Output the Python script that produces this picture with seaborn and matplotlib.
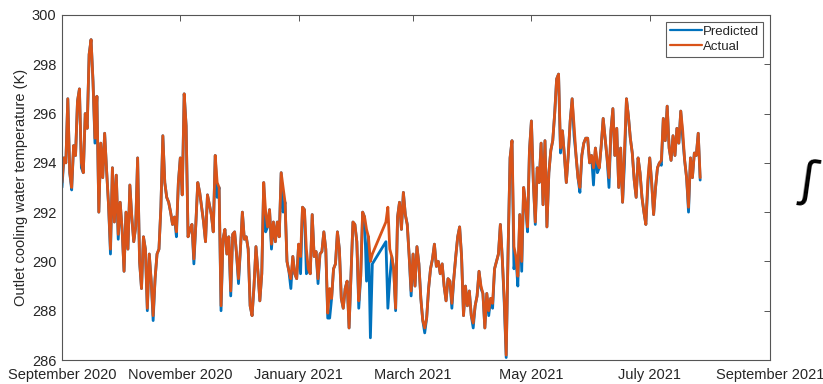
import pandas as pd
import numpy as np
import matplotlib
matplotlib.use('Agg')
import matplotlib.pyplot as plt
import matplotlib.dates as mdates
import seaborn as sns

# actual outlet temperature (K), daily
# first block: 2020-09-01 .. 2021-02-08
actual_a = [293.2, 294.2, 294.0, 296.6, 293.6, 293.0, 294.7, 294.3, 296.5, 297.0,
            294.0, 293.6, 296.0, 295.4, 298.4, 299.0, 297.3, 295.0, 296.7, 292.0,
            294.8, 293.4, 295.2, 293.7, 292.3, 290.5, 293.8, 291.6, 293.5, 291.1,
            292.4, 291.3, 289.6, 292.0, 290.5, 293.1, 291.8, 290.8, 291.4, 294.2,
            290.0, 288.9, 291.0, 290.5, 288.1, 290.3, 289.2, 287.8, 289.3, 290.3,
            290.5, 292.2, 295.1, 293.2, 292.6, 292.4, 292.0, 291.5, 291.8, 291.2,
            293.2, 294.2, 292.7, 296.8, 295.5, 291.0, 291.3, 291.5, 290.1, 291.5,
            293.2, 292.8, 292.2, 291.6, 290.8, 292.7, 292.3, 291.9, 291.2, 294.3,
            293.2, 293.0, 288.2, 290.9, 291.3, 290.3, 291.0, 288.8, 291.1, 291.2,
            290.3, 289.3, 290.5, 292.0, 290.9, 291.0, 290.5, 288.2, 287.8, 289.0,
            290.6, 289.6, 288.4, 289.5, 293.2, 292.0, 291.4, 292.1, 290.7, 291.6,
            290.8, 291.6, 291.0, 293.6, 293.0, 292.4, 290.0, 289.6, 289.3, 290.2,
            289.5, 289.3, 290.7, 290.2, 292.2, 292.1, 290.5, 289.7, 289.5, 291.9,
            290.2, 290.4, 289.3, 290.3, 290.4, 291.2, 290.5, 287.9, 288.9, 288.5,
            289.7, 289.9, 291.2, 290.5, 288.5, 288.1, 288.9, 289.2, 287.3, 289.5,
            291.6, 291.5, 290.8, 288.4, 289.4, 292.0, 291.8, 291.3, 291.0, 290.0,
            290.3]
# second block after the data gap: 2021-02-15 .. 2021-07-27
actual_b = [291.6, 292.2, 290.5, 290.2, 289.7, 288.1, 291.8, 292.4, 291.3, 292.8,
            291.9, 291.5, 290.2, 288.8, 290.3, 289.0, 290.6, 289.9, 288.5, 287.6,
            287.3, 287.7, 288.9, 289.7, 290.1, 290.7, 289.8, 290.0, 289.5, 289.9,
            289.0, 288.4, 289.3, 289.2, 288.3, 289.3, 290.2, 291.0, 291.4, 290.2,
            287.8, 289.0, 288.2, 288.8, 287.8, 287.5, 288.2, 288.6, 289.6, 289.0,
            288.7, 287.3, 288.7, 288.0, 288.5, 288.3, 289.7, 290.0, 290.3, 291.5,
            290.1, 288.5, 286.2, 290.5, 294.2, 294.9, 290.6, 290.2, 289.4, 291.9,
            290.0, 293.0, 292.3, 291.4, 294.5, 295.7, 293.2, 291.6, 293.8, 293.2,
            294.8, 292.3, 294.9, 291.4, 293.6, 294.5, 294.9, 296.0, 297.4, 297.6,
            294.6, 295.3, 294.3, 293.2, 294.3, 295.7, 296.6, 295.5, 294.3, 293.4,
            293.0, 294.3, 294.8, 295.0, 295.0, 294.0, 294.3, 293.8, 294.6, 294.0,
            293.8, 294.7, 295.8, 295.0, 294.2, 293.4, 295.3, 296.2, 294.3, 295.4,
            293.0, 294.6, 292.4, 294.5, 296.6, 295.9, 295.0, 294.4, 293.3, 292.6,
            294.2, 293.6, 292.6, 292.0, 291.5, 293.3, 294.2, 293.2, 291.9, 293.0,
            293.8, 294.0, 294.1, 295.8, 294.9, 296.3, 294.6, 294.1, 295.1, 294.3,
            295.4, 294.8, 296.1, 295.3, 294.1, 293.4, 292.2, 294.2, 293.4, 294.4,
            294.3, 295.2, 293.4]

# predicted follows actual closely; days (since 2020-09-01) where it visibly differs
pred_days = [0, 5, 10, 17, 25, 29, 44, 47, 59, 68, 80, 82, 87, 91, 105, 108, 114,
             118, 123, 126, 132, 137, 138, 153, 157, 159, 160, 167, 168, 169, 172,
             180, 187, 201, 212, 216, 220, 222, 228, 229, 233, 235, 237, 240, 244,
             257, 264, 267, 274, 276, 282, 290, 302, 309, 320, 323, 329]
pred_vals = [293.0, 292.9, 293.8, 294.8, 290.3, 290.9, 288.0, 287.6, 291.0, 289.9,
             292.6, 288.0, 288.6, 289.1, 291.2, 290.5, 292.0, 288.9, 289.5, 289.5,
             289.1, 287.7, 287.7, 288.1, 289.2, 286.9, 289.9, 290.8, 288.1, 289.3,
             288.0, 288.6, 287.1, 288.1, 287.3, 288.9, 287.8, 288.1, 288.3, 286.1,
             289.7, 289.0, 289.6, 291.2, 291.5, 294.4, 295.1, 292.8, 293.1, 293.6,
             293.0, 294.0, 293.0, 293.9, 295.0, 292.0, 293.3]

start = pd.Timestamp('2020-09-01')
dates = pd.date_range(start, periods=len(actual_a), freq='D').append(
    pd.date_range('2021-02-15', periods=len(actual_b), freq='D'))
actual = pd.Series(actual_a + actual_b, index=dates)
predicted = actual.copy()
for d, v in zip(pred_days, pred_vals):
    t = start + pd.Timedelta(days=d)
    if t in predicted.index:
        predicted[t] = v

df = pd.DataFrame({'date': dates, 'Predicted': predicted.values, 'Actual': actual.values})

sns.set_style('white')
plt.rcParams['font.family'] = ['Liberation Sans', 'DejaVu Sans']

fig = plt.figure(figsize=(8.23, 3.84), dpi=100)
ax = fig.add_axes([0.0753, 0.0625, 0.8603, 0.8985])

sns.lineplot(data=df, x='date', y='Predicted', color='#0072BD', lw=2.0,
             label='Predicted', estimator=None, ax=ax)
sns.lineplot(data=df, x='date', y='Actual', color='#D95319', lw=2.0,
             label='Actual', estimator=None, ax=ax)

ax.set_xlim(pd.Timestamp('2020-09-01'), pd.Timestamp('2021-09-01'))
ax.set_ylim(286, 300)
ax.set_yticks(np.arange(286, 301, 2))
ax.xaxis.set_major_locator(mdates.MonthLocator(bymonth=[1, 3, 5, 7, 9, 11]))
ax.xaxis.set_major_formatter(mdates.DateFormatter('%B %Y'))
ax.set_xlabel('')
ax.set_ylabel('Outlet cooling water temperature (K)', fontsize=10.5, color='#262626', labelpad=3)

for s in ax.spines.values():
    s.set_visible(True)
    s.set_color('#555555')
    s.set_linewidth(0.8)
ax.tick_params(axis='both', direction='in', length=4, width=0.7, color='#555555',
               labelsize=10.5, labelcolor='#262626', top=True, right=True, pad=4)
ax.tick_params(axis='x', pad=6)

leg = ax.legend(loc='upper right', fontsize=9.5, frameon=True, fancybox=False,
                borderpad=0.3, handlelength=2.4, handletextpad=0.1,
                labelspacing=0.2, borderaxespad=0.5)
leg.get_frame().set_edgecolor('#333333')
leg.get_frame().set_linewidth(0.8)
for ln in leg.get_lines():
    ln.set_linewidth(1.6)

fig.text(0.983, 0.525, 'ʃ', fontsize=36, color='black', ha='center', va='center',
         family='DejaVu Sans', rotation=-8)

fig.savefig('out.png', dpi=100)
